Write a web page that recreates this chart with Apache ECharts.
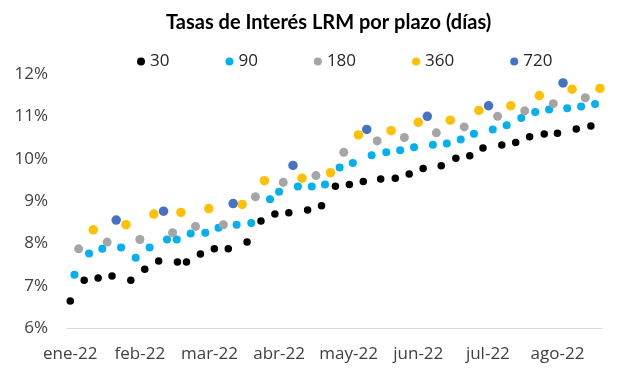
<!DOCTYPE html>
<html>
<head>
<meta charset="utf-8">
<script src="https://cdn.jsdelivr.net/npm/echarts@6/dist/echarts.min.js"></script>
<style>html,body{margin:0;padding:0;background:#fff}#c{width:617px;height:384px}</style>
</head>
<body>
<div id="c"></div>
<script>
// Month tick labels (x positions are expressed in months, 0 = ene-22)
const meses = ['ene-22','feb-22','mar-22','abr-22','may-22','jun-22','jul-22','ago-22'];

// Plazo 30 días
const x30 = [0.00,0.20,0.40,0.60,0.87,1.07,1.27,1.54,1.67,1.87,2.07,2.27,2.54,2.74,2.94,3.14,3.41,3.61,3.81,4.01,4.21,4.46,4.67,4.87,5.07,5.33,5.54,5.74,5.93,6.20,6.40,6.60,6.81,7.00,7.27,7.48];
const y30 = [6.64,7.13,7.18,7.23,7.13,7.39,7.58,7.56,7.56,7.75,7.87,7.87,8.03,8.53,8.69,8.72,8.79,8.89,9.35,9.39,9.46,9.52,9.54,9.64,9.77,9.83,10.01,10.07,10.25,10.32,10.38,10.52,10.58,10.60,10.70,10.77];

// Plazo 90 días
const x90 = [0.06,0.27,0.46,0.73,0.94,1.14,1.39,1.53,1.73,1.94,2.13,2.39,2.60,2.87,3.00,3.27,3.47,3.66,3.87,4.06,4.33,4.54,4.74,4.94,5.21,5.41,5.61,5.80,6.07,6.27,6.48,6.68,6.88,7.14,7.34,7.54];
const y90 = [7.26,7.76,7.87,7.90,7.66,7.90,8.09,8.09,8.23,8.25,8.37,8.44,8.48,9.04,9.22,9.34,9.34,9.39,9.79,9.90,10.08,10.15,10.20,10.27,10.33,10.36,10.45,10.59,10.69,10.79,10.96,11.10,11.16,11.19,11.23,11.29];

// Plazo 180 días
const x180 = [0.12,0.53,1.00,1.47,1.80,2.20,2.66,3.06,3.53,3.93,4.41,4.80,5.26,5.66,6.14,6.53,6.94,7.40];
const y180 = [7.87,8.03,8.09,8.25,8.40,8.44,9.10,9.44,9.60,10.15,10.42,10.50,10.61,10.75,11.00,11.13,11.30,11.44];

// Plazo 360 días
const x360 = [0.33,0.80,1.20,1.59,1.99,2.47,2.79,3.33,3.74,4.14,4.61,5.00,5.46,5.87,6.33,6.74,7.21,7.61];
const y360 = [8.32,8.44,8.69,8.73,8.82,8.92,9.48,9.54,9.67,10.56,10.66,10.86,10.91,11.14,11.25,11.49,11.64,11.66];

// Plazo 720 días
const x720 = [0.66,1.34,2.34,3.20,4.26,5.13,6.01,7.08];
const y720 = [8.55,8.76,8.94,9.84,10.69,11.00,11.25,11.79];

const zip = (xs, ys) => xs.map((x, i) => [x, ys[i]]);

const FONT = '"Open Sans", sans-serif';
const TFONT = 'Lato, sans-serif';

const chart = echarts.init(document.getElementById('c'), null, {renderer: 'canvas'});
chart.setOption({
  animation: false,
  backgroundColor: '#ffffff',
  title: {
    text: 'Tasas de Interés LRM por plazo (días)',
    left: 161,
    top: 8,
    textStyle: {fontFamily: TFONT, fontSize: 20, fontWeight: 'bold', color: '#000000'}
  },
  legend: {
    data: ['30','90','180','360','720'],
    left: 132,
    top: 48,
    icon: 'circle',
    itemWidth: 8,
    itemHeight: 8,
    itemGap: 56,
    textStyle: {fontFamily: FONT, fontSize: 17, color: '#262626'}
  },
  grid: {left: 67, right: 15, top: 74, bottom: 56},
  xAxis: {
    type: 'value',
    min: -0.047,
    max: 7.64,
    axisLine: {lineStyle: {color: '#D9D9D9', width: 1}},
    axisTick: {show: false},
    splitLine: {show: false},
    axisLabel: {
      customValues: [0,1,2,3,4,5,6,7],
      formatter: v => meses[Math.round(v)] || '',
      fontFamily: FONT, fontSize: 17, color: '#404040', margin: 18
    }
  },
  yAxis: {
    type: 'value',
    min: 6,
    max: 12,
    interval: 1,
    axisLine: {show: false},
    axisTick: {show: false},
    splitLine: {show: false},
    axisLabel: {formatter: '{value}%', fontFamily: FONT, fontSize: 17, color: '#404040', margin: 19}
  },
  series: [
    {name: '30', type: 'scatter', data: zip(x30, y30), symbolSize: 7.5, itemStyle: {color: '#000000', opacity: 1}},
    {name: '90', type: 'scatter', data: zip(x90, y90), symbolSize: 8, itemStyle: {color: '#00B0F0', opacity: 1}},
    {name: '180', type: 'scatter', data: zip(x180, y180), symbolSize: 9, itemStyle: {color: '#A5A5A5', opacity: 1}},
    {name: '360', type: 'scatter', data: zip(x360, y360), symbolSize: 9.5, itemStyle: {color: '#FFC000', opacity: 1}},
    {name: '720', type: 'scatter', data: zip(x720, y720), symbolSize: 9.5, itemStyle: {color: '#4472C4', opacity: 1}}
  ]
});
</script>
</body>
</html>
